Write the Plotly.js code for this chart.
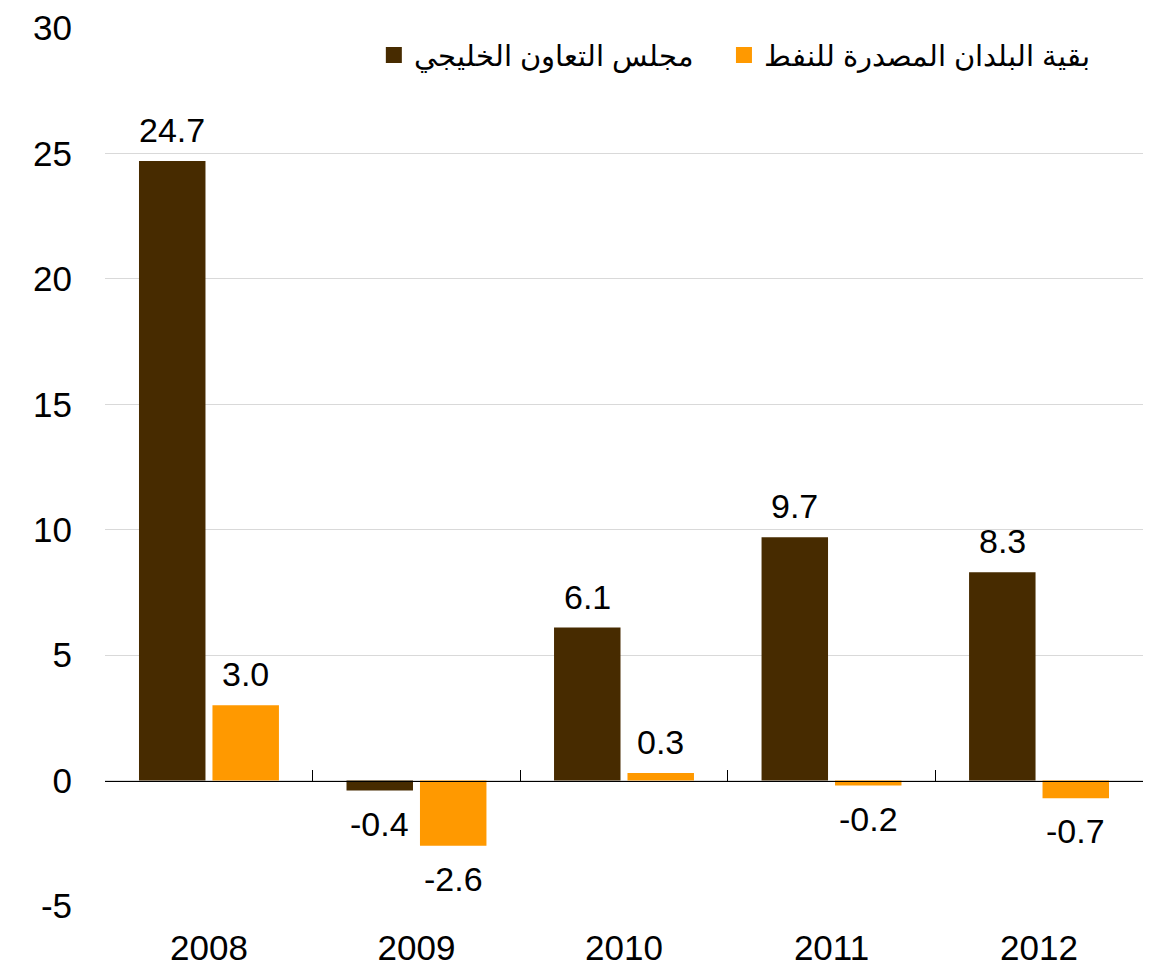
<!DOCTYPE html>
<html>
<head>
<meta charset="utf-8">
<script src="https://cdn.plot.ly/plotly-3.0.1.min.js"></script>
<style>html,body{margin:0;padding:0;background:#fff;}#chart{width:1151px;height:971px;}</style>
</head>
<body>
<div id="chart"></div>
<script>
const years = ['2008', '2009', '2010', '2011', '2012'];
const gccValues = [24.7, -0.4, 6.1, 9.7, 8.3];
const otherValues = [3.0, -2.6, 0.3, -0.2, -0.7];
const gccName = 'مجلس التعاون الخليجي';
const otherName = 'بقية البلدان المصدرة للنفط';
const yTicks = [-5, 0, 5, 10, 15, 20, 25, 30];

const brown = '#472b00';
const orange = '#ff9900';
const font = 'Liberation Sans, Arial, sans-serif';

const traces = [
  {type: 'bar', x: years, y: gccValues, marker: {color: brown}, showlegend: false, hoverinfo: 'skip'},
  {type: 'bar', x: years, y: otherValues, marker: {color: orange}, showlegend: false, hoverinfo: 'skip'},
  {type: 'scatter', mode: 'markers', x: years, y: years.map(() => null), xaxis: 'x2', name: gccName,
   legend: 'legend', marker: {symbol: 'square', size: 17, color: brown}, hoverinfo: 'skip'},
  {type: 'scatter', mode: 'markers', x: years, y: years.map(() => null), xaxis: 'x2', name: otherName,
   legend: 'legend2', marker: {symbol: 'square', size: 17, color: orange}, hoverinfo: 'skip'}
];

const annotations = [];
const series = [[gccValues, -36.75], [otherValues, 36.75]];
series.forEach(([vals, dx]) => {
  vals.forEach((v, i) => {
    annotations.push({
      x: i, y: v, xref: 'x', yref: 'y', text: v.toFixed(1), showarrow: false,
      xshift: dx, yanchor: v >= 0 ? 'bottom' : 'top', yshift: v >= 0 ? 10 : -12,
      font: {family: font, size: 34, color: '#000'}
    });
  });
});

const xRange = [-0.501, years.length - 0.499];
const legendBase = {orientation: 'h', y: 0.969, xanchor: 'left', yanchor: 'middle',
                    font: {family: font, size: 29, color: '#000'}, bgcolor: 'rgba(0,0,0,0)'};

const layout = {
  width: 1151, height: 971,
  margin: {l: 105, r: 8, t: 28, b: 65, autoexpand: false},
  paper_bgcolor: '#fff', plot_bgcolor: '#fff',
  barmode: 'group', bargap: 0.292, bargroupgap: 0.095,
  showlegend: true,
  legend: Object.assign({}, legendBase, {x: 0.259}),
  legend2: Object.assign({}, legendBase, {x: 0.5963}),
  xaxis: {type: 'category', categoryorder: 'array', categoryarray: years, range: xRange,
          showline: false, ticks: '', showgrid: false, zeroline: false, automargin: false,
          tickfont: {family: font, size: 35, color: '#000'}, ticklabelstandoff: 18},
  xaxis2: {type: 'category', categoryorder: 'array', categoryarray: years, range: xRange,
           overlaying: 'x', anchor: 'free', position: 5/35, automargin: false,
           side: 'bottom', showline: true, linecolor: '#000', linewidth: 1.3,
           ticks: 'inside', tickson: 'boundaries', ticklen: 11, tickcolor: '#000', tickwidth: 1,
           showticklabels: false, showgrid: false, zeroline: false},
  yaxis: {range: [-5, 30], tickvals: yTicks, ticktext: yTicks.map(String), showgrid: true,
          gridcolor: '#d9d9d9', gridwidth: 1, zeroline: false, showline: false, ticks: '',
          automargin: false,
          tickfont: {family: font, size: 35, color: '#000'}, ticklabelstandoff: 32},
  annotations: annotations
};

Plotly.newPlot('chart', traces, layout, {displayModeBar: false, staticPlot: true});
</script>
</body>
</html>
